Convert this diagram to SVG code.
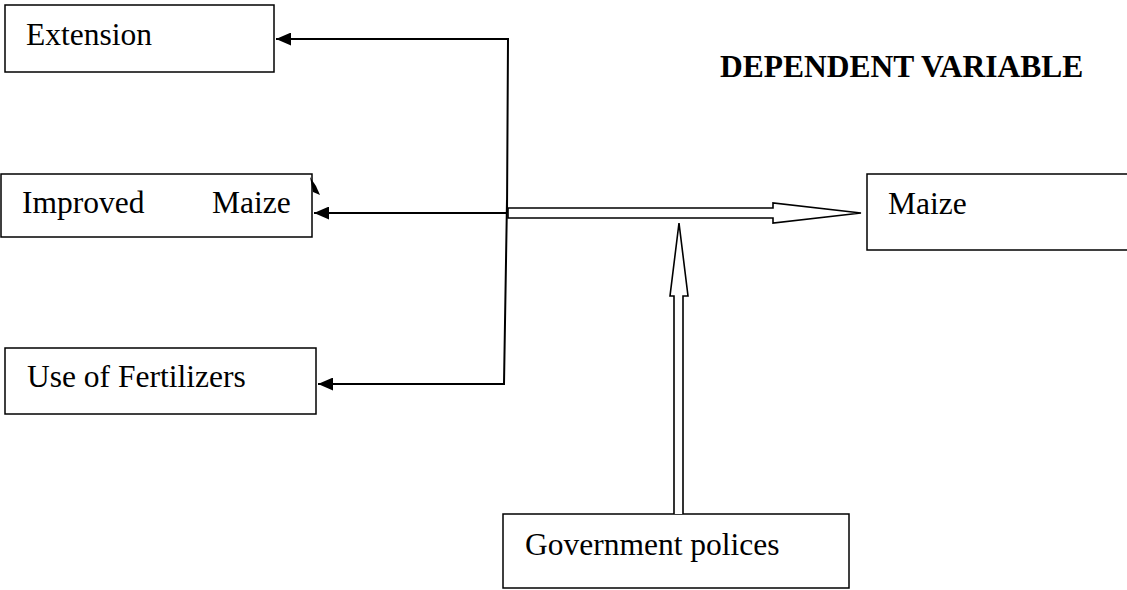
<svg xmlns="http://www.w3.org/2000/svg" width="1127" height="590" viewBox="0 0 1127 590">
<style>
.box{fill:#fff;stroke:#000;stroke-width:1.5}
.t{font-family:"Liberation Serif","Times New Roman",serif;font-size:31.5px;fill:#000}
.h{font-family:"Liberation Serif","Times New Roman",serif;font-size:31.5px;font-weight:bold;fill:#000}
.ln{fill:none;stroke:#000;stroke-width:2}
.dbl{fill:#fff;stroke:#000;stroke-width:1.6;stroke-linejoin:miter}
</style>
<defs>
<marker id="ah" markerWidth="16" markerHeight="13" refX="15" refY="6.5" orient="auto" markerUnits="userSpaceOnUse">
<path d="M0,0 L15,6.5 L0,13 Z" fill="#000"/>
</marker>
</defs>
<rect width="1127" height="590" fill="#fff"/>
<g id="label-dependent"><text class="h" x="720" y="77">DEPENDENT VARIABLE</text></g>
<g id="node-extension"><rect class="box" x="5" y="5" width="269" height="67"/><text class="t" x="26" y="45">Extension</text></g>
<g id="node-improved"><rect class="box" x="1" y="174" width="311" height="63"/><text class="t" x="22" y="213">Improved</text><text class="t" x="212" y="213">Maize</text></g>
<g id="node-fertilizers"><rect class="box" x="5" y="348" width="311" height="66"/><text class="t" x="27" y="387">Use of Fertilizers</text></g>
<g id="node-maize"><rect class="box" x="867" y="174" width="262" height="76"/><text class="t" x="888" y="214">Maize</text></g>
<g id="node-government"><rect class="box" x="503" y="514" width="346" height="74"/><text class="t" x="525" y="555">Government polices</text></g>
<g id="connectors">
<polyline class="ln" points="507,213 508,39 276,39" marker-end="url(#ah)"/>
<line class="ln" x1="507" y1="213" x2="314" y2="213" marker-end="url(#ah)"/>
<polyline class="ln" points="507,200 504,384 318,384" marker-end="url(#ah)"/>
<path d="M310,177 L316,186 L320,195 L313,192 Z" fill="#000"/>
<path class="dbl" d="M508,208 L773,208 L773,203 L861,213 L773,223 L773,218 L508,218 Z"/>
<path class="dbl" d="M674,514 L674,296 L670,296 L679,223 L688,296 L683,296 L683,514"/>
</g>
</svg>
